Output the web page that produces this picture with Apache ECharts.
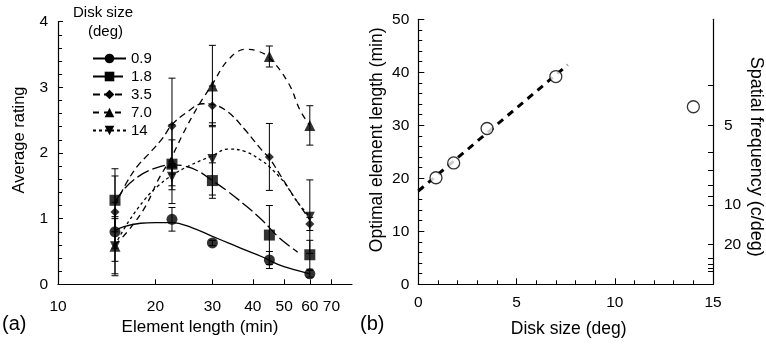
<!DOCTYPE html>
<html>
<head>
<meta charset="utf-8">
<script src="https://cdn.jsdelivr.net/npm/echarts@6/dist/echarts.min.js"></script>
<style>
  html, body { margin: 0; padding: 0; background: #fff; }
  #chart { width: 766px; height: 348px; }
</style>
</head>
<body>
<div id="chart"></div>
<script>
// panel (a): rating vs element length
const lengths = [15, 22.5, 30, 45, 60];
const sizeNames = ['0.9', '1.8', '3.5', '7.0', '14'];
const rating09 = [0.80, 0.99, 0.63, 0.37, 0.16];
const rating18 = [1.28, 1.83, 1.58, 0.75, 0.45];
const rating35 = [1.10, 2.41, 2.72, 1.94, 0.92];
const rating70 = [0.58, 1.85, 3.02, 3.47, 2.42];
const rating14 = [0.58, 1.64, 1.91, null, 1.03];
const err09 = [0.45, 0.18, 0.04, 0.13, 0.05];
const err18 = [0.48, 0.60, 0.27, 0.45, 0.22];
const err35 = [0.55, 0.73, 0.30, 0.51, 0.10];
const err70 = [0.45, 0.35, 0.62, 0.16, 0.30];
const err14 = [0.42, 0.20, 0.55, null, 0.56];

// fitted curves, [length, rating]
const curve09 = [[15, 0.82], [16, 0.88], [18, 0.93], [20, 0.94], [22.5, 0.94], [26, 0.86], [30, 0.73], [34, 0.62], [38, 0.52], [42.7, 0.42], [48, 0.30], [54, 0.22], [60, 0.16]];
const curve18 = [[15, 1.25], [16, 1.45], [17.7, 1.64], [20, 1.77], [22.5, 1.82], [24.7, 1.80], [27, 1.73], [30, 1.58], [33.6, 1.41], [38.4, 1.18], [42.7, 0.98], [48, 0.72], [55, 0.49]];
const curve35 = [[15, 1.20], [16.3, 1.55], [17.6, 1.80], [19.2, 2.0], [21, 2.22], [22.5, 2.43], [25, 2.62], [28, 2.75], [30, 2.74], [33.6, 2.62], [37.9, 2.35], [42.7, 2.04], [45, 1.92], [50.4, 1.54], [55, 1.25], [60, 0.98]];
const curve70 = [[15, 0.60], [16.5, 0.82], [18.6, 1.18], [20.4, 1.59], [22.5, 1.95], [24.5, 2.32], [27, 2.70], [30, 3.05], [33.6, 3.42], [38, 3.58], [41, 3.56], [45, 3.45], [51.6, 3.06], [56, 2.65], [60, 2.42]];
const curve14 = [[15, 0.60], [16.5, 0.95], [18.6, 1.30], [20.4, 1.50], [22.5, 1.66], [25.3, 1.80], [30, 1.96], [33.6, 2.06], [38, 2.02], [42.7, 1.88], [45, 1.79], [50, 1.55], [55, 1.25], [60, 1.03]];

// panel (b): optimal element length vs disk size
const diskSizes = [0.9, 1.8, 3.5, 7.0, 14];
const optimalLength = [20.1, 22.9, 29.4, 39.2, 33.5];
const fitLine = [[0, 17.6], [7.6, 41.4]];
const sfTicks = [4, 5, 6, 7, 8, 9, 10, 20, 30, 40, 50, 60];
const sfLabels = [5, 10, 20];
const lengthTicks = [10, 20, 30, 40, 50, 60, 70];

const FONT = 'Liberation Sans, Arial, sans-serif';
const lg = Math.log10;

const ratings = [rating09, rating18, rating35, rating70, rating14];
const errs = [err09, err18, err35, err70, err14];
const curves = [curve09, curve18, curve35, curve70, curve14];
const symbols = ['circle', 'rect', 'diamond', 'triangle', 'path://M0,0 L10,0 L5,9 Z'];
const symSizes = [11, 11, 9, 11, 10];
const dashes = ['solid', [13, 4], [7, 4], [6, 5], [3, 3]];

function renderErrorBar(params, api) {
  const x = api.value(0);
  const top = api.coord([x, api.value(2)]);
  const bot = api.coord([x, api.value(1)]);
  const w = 3.5;
  const st = { stroke: '#000', lineWidth: 1 };
  return {
    type: 'group',
    children: [
      { type: 'line', shape: { x1: top[0], y1: top[1], x2: bot[0], y2: bot[1] }, style: st },
      { type: 'line', shape: { x1: top[0] - w, y1: top[1], x2: top[0] + w, y2: top[1] }, style: st },
      { type: 'line', shape: { x1: bot[0] - w, y1: bot[1], x2: bot[0] + w, y2: bot[1] }, style: st }
    ]
  };
}

const series = [];
sizeNames.forEach((name, i) => {
  series.push({
    name: name,
    type: 'line',
    xAxisIndex: 0, yAxisIndex: 0,
    smooth: 0.4,
    showSymbol: false,
    symbol: symbols[i],
    symbolSize: symSizes[i],
    silent: true,
    z: 3,
    lineStyle: { color: '#000', width: 1.3, type: dashes[i] },
    itemStyle: { color: '#000' },
    data: curves[i].map(p => [lg(p[0]), p[1]])
  });
});
sizeNames.forEach((name, i) => {
  const bars = [];
  lengths.forEach((len, j) => {
    if (ratings[i][j] != null) {
      bars.push([lg(len), ratings[i][j] - errs[i][j], ratings[i][j] + errs[i][j]]);
    }
  });
  series.push({
    name: name,
    type: 'custom',
    xAxisIndex: 0, yAxisIndex: 0,
    renderItem: renderErrorBar,
    encode: { x: 0, y: [1, 2] },
    silent: true,
    z: 2,
    data: bars
  });
  series.push({
    name: name,
    type: 'scatter',
    xAxisIndex: 0, yAxisIndex: 0,
    symbol: symbols[i],
    symbolSize: symSizes[i],
    itemStyle: { color: '#000' },
    z: 5,
    data: lengths.map((len, j) => ratings[i][j] == null ? null : [lg(len), ratings[i][j]]).filter(d => d)
  });
});

series.push({
  type: 'line',
  xAxisIndex: 1, yAxisIndex: 1,
  showSymbol: false,
  lineStyle: { color: '#000', width: 3, type: [7, 6] },
  data: fitLine,
  z: 3
});
series.push({
  type: 'scatter',
  xAxisIndex: 1, yAxisIndex: 1,
  symbol: 'circle',
  symbolSize: 12,
  itemStyle: { color: '#fff', borderColor: '#000', borderWidth: 1.3 },
  data: diskSizes.map((d, i) => [d, optimalLength[i]]),
  z: 5
});

const axisLine = { lineStyle: { color: '#000', width: 1.2 } };
const labelStyle = { color: '#000', fontSize: 15.5, fontFamily: FONT };
const nameStyle = { color: '#000', fontSize: 17.5, fontFamily: FONT };

const chart = echarts.init(document.getElementById('chart'));
chart.setOption({
  animation: false,
  backgroundColor: '#fff',
  grid: [
    { left: 58, top: 21.7, width: 294, height: 262.6 },
    { left: 418.3, top: 19.3, width: 300, height: 265 }
  ],
  legend: {
    data: sizeNames,
    orient: 'vertical',
    left: 87,
    top: 46,
    itemWidth: 33,
    itemHeight: 12,
    itemGap: 3,
    selectedMode: false,
    textStyle: { color: '#000', fontSize: 15, fontFamily: FONT }
  },
  xAxis: [
    {
      type: 'value', gridIndex: 0,
      min: lg(10), max: lg(81),
      axisLine: axisLine,
      axisTick: { inside: true, length: 5, lineStyle: { color: '#000' }, customValues: lengthTicks.map(lg) },
      axisLabel: {
        ...labelStyle, margin: 14,
        customValues: lengthTicks.map(lg),
        formatter: v => String(Math.round(Math.pow(10, v)))
      },
      splitLine: { show: false },
      name: 'Element length (min)',
      nameLocation: 'middle',
      nameGap: 32,
      nameTextStyle: { ...nameStyle, fontSize: 17, padding: [0, 10, 0, 0] }
    },
    {
      type: 'value', gridIndex: 1,
      min: 0, max: 15, interval: 5,
      axisLine: axisLine,
      axisTick: { inside: true, length: 6, lineStyle: { color: '#000' } },
      minorTick: { show: true, splitNumber: 5, length: 4, lineStyle: { color: '#000' } },
      axisLabel: { ...labelStyle, margin: 10 },
      splitLine: { show: false },
      name: 'Disk size (deg)',
      nameLocation: 'middle',
      nameGap: 36,
      nameTextStyle: { ...nameStyle, padding: [0, 0, 0, 6] }
    }
  ],
  yAxis: [
    {
      type: 'value', gridIndex: 0,
      min: 0, max: 4, interval: 1,
      axisLine: { show: true, ...axisLine },
      axisTick: { show: true, inside: true, length: 5, lineStyle: { color: '#000' } },
      minorTick: { show: true, splitNumber: 5, length: 4, lineStyle: { color: '#000' } },
      axisLabel: { ...labelStyle, margin: 10 },
      splitLine: { show: false },
      name: 'Average rating',
      nameLocation: 'middle',
      nameGap: 30,
      nameTextStyle: { ...nameStyle, fontSize: 16.5, padding: [0, 0, 0, 26] }
    },
    {
      type: 'value', gridIndex: 1,
      min: 0, max: 50, interval: 10,
      axisLine: { show: true, ...axisLine },
      axisTick: { show: true, inside: true, length: 6, lineStyle: { color: '#000' } },
      minorTick: { show: true, splitNumber: 5, length: 4, lineStyle: { color: '#000' } },
      axisLabel: { ...labelStyle, margin: 9 },
      splitLine: { show: false },
      name: 'Optimal element length (min)',
      nameLocation: 'middle',
      nameGap: 32,
      nameTextStyle: { ...nameStyle, padding: [0, 0, 0, 24] }
    },
    {
      type: 'value', gridIndex: 1, position: 'right',
      min: 0, max: 50,
      axisLine: { show: true, ...axisLine },
      axisTick: { show: true, inside: true, length: 5, lineStyle: { color: '#000' }, customValues: sfTicks.map(f => 150 / f) },
      axisLabel: {
        ...labelStyle, margin: 11,
        customValues: sfLabels.map(f => 150 / f),
        formatter: v => String(Math.round(150 / v))
      },
      splitLine: { show: false },
      name: 'Spatial frequency (c/deg)',
      nameLocation: 'middle',
      nameRotate: -90,
      nameGap: 34,
      nameTextStyle: { ...nameStyle, fontSize: 18, padding: [0, 0, 0, 10] }
    }
  ],
  graphic: [
    { type: 'text', left: 73, top: 5, style: { text: 'Disk size', font: '15px ' + FONT, fill: '#000' } },
    { type: 'text', left: 88, top: 24, style: { text: '(deg)', font: '15px ' + FONT, fill: '#000' } },
    { type: 'text', left: 2, top: 314, style: { text: '(a)', font: '20px ' + FONT, fill: '#000' } },
    { type: 'text', left: 360, top: 314, style: { text: '(b)', font: '20px ' + FONT, fill: '#000' } }
  ],
  series: series
});
</script>
</body>
</html>
